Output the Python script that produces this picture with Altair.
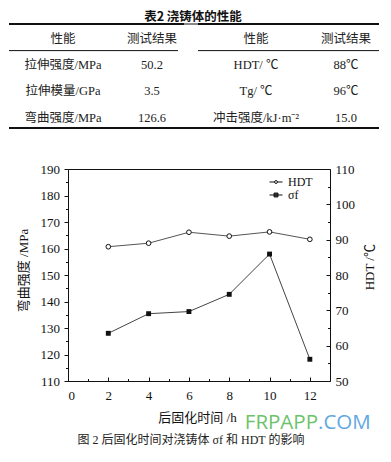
import altair as alt
import pandas as pd

# ---------------- data ----------------
hours = [2, 4, 6, 8, 10, 12]
hdt_c = [88.0, 89.0, 92.1, 91.0, 92.2, 90.1]
sigma_mpa = [128.0, 135.4, 136.2, 142.7, 157.9, 118.2]
series_names = ["HDT", "σf"]

table_title = "表2   浇铸体的性能"
table_headers = ["性能", "测试结果", "性能", "测试结果"]
left_props = ["拉伸强度/MPa", "拉伸模量/GPa", "弯曲强度/MPa"]
left_results = ["50.2", "3.5", "126.6"]
right_props = ["HDT/ ℃", "Tg/ ℃", "冲击强度/kJ·m⁻²"]
right_results = ["88℃", "96℃", "15.0"]

x_major = [0, 2, 4, 6, 8, 10, 12]
x_minor = [1, 3, 5, 7, 9, 11]
yl_major = [110, 120, 130, 140, 150, 160, 170, 180, 190]
yl_minor = [115, 125, 135, 145, 155, 165, 175, 185]
yr_major = [50, 60, 70, 80, 90, 100, 110]
yr_minor = [55, 65, 75, 85, 95, 105]

x_title = "后固化时间 /h"
yl_title = "弯曲强度 /MPa"
yr_title = "HDT /℃"
caption = "图 2    后固化时间对浇铸体 σf 和 HDT 的影响"
watermark = ["FRPAPP", ".COM"]

# ---------------- styles ----------------
SERIF = "Liberation Serif, Noto Sans CJK SC"
CJK = "Noto Sans CJK SC"
INK = "#111111"

# ---------------- table ----------------
rows = ["h", "r1", "r2", "r3"]
left_rec, right_rec = [], []
left_rec += [{"row": "h", "col": "a", "text": table_headers[0]},
             {"row": "h", "col": "b", "text": table_headers[1]}]
right_rec += [{"row": "h", "col": "a", "text": table_headers[2]},
              {"row": "h", "col": "b", "text": table_headers[3]}]
for i, r in enumerate(rows[1:]):
    left_rec += [{"row": r, "col": "a", "text": left_props[i]},
                 {"row": r, "col": "b", "text": left_results[i]}]
    right_rec += [{"row": r, "col": "a", "text": right_props[i]},
                  {"row": r, "col": "b", "text": right_results[i]}]
left_df = pd.DataFrame(left_rec)
right_df = pd.DataFrame(right_rec)

yrow = alt.Y("row:N", scale=alt.Scale(type="point", domain=rows, range=[14.7, 93.7], padding=0), axis=None)

t_left = alt.Chart(left_df).mark_text(font=SERIF, fontSize=12.5, color="#222").encode(
    x=alt.X("col:N", scale=alt.Scale(type="point", domain=["a", "b"], range=[-5, 84], padding=0), axis=None),
    y=yrow, text="text:N")
t_right = alt.Chart(right_df).mark_text(font=SERIF, fontSize=12.5, color="#222").encode(
    x=alt.X("col:N", scale=alt.Scale(type="point", domain=["a", "b"], range=[188, 278], padding=0), axis=None),
    y=yrow, text="text:N")

one = pd.DataFrame({"k": [0]})
top_rule = alt.Chart(one).mark_rule(color=INK, strokeWidth=2).encode(
    x=alt.value(-59), x2=alt.value(311), y=alt.value(0))
top_gap = alt.Chart(one).mark_rule(color="#888", strokeWidth=2).encode(
    x=alt.value(116), x2=alt.value(130), y=alt.value(0))
bot_rule = alt.Chart(one).mark_rule(color=INK, strokeWidth=2).encode(
    x=alt.value(-59), x2=alt.value(311), y=alt.value(104))
hl_left = alt.Chart(one).mark_rule(color=INK, strokeWidth=1).encode(
    x=alt.value(-59), x2=alt.value(110), y=alt.value(26.6))
hl_right = alt.Chart(one).mark_rule(color=INK, strokeWidth=1).encode(
    x=alt.value(130), x2=alt.value(311), y=alt.value(26.6))

table = alt.layer(top_rule, top_gap, bot_rule, hl_left, hl_right, t_left, t_right).resolve_scale(
    x="independent"
).properties(
    width=262, height=104,
    title=alt.TitleParams(table_title, font=CJK, fontSize=12.5, fontWeight="bold",
                          color=INK, anchor="middle", offset=-0.5, dx=-6),
    view=alt.ViewBackground(strokeWidth=0, stroke=None),
)

# ---------------- plot ----------------
W, H = 262, 212
df = pd.DataFrame({"t": hours, "hdt": hdt_c, "sf": sigma_mpa})
xs = alt.Scale(domain=[0, 13], nice=False, zero=False)
ysl = alt.Scale(domain=[110, 190], nice=False, zero=False)
ysr = alt.Scale(domain=[50, 110], nice=False, zero=False)

common = dict(domain=False, grid=False, tickColor=INK, tickWidth=1,
              labelFont="Liberation Serif", labelFontSize=13, labelColor=INK)

ax_x_major = alt.Axis(orient="bottom", values=x_major, offset=-4, tickSize=4, labelPadding=8,
                      title=x_title, titleFont=SERIF, titleFontSize=13, titleFontWeight="normal",
                      titleColor=INK, titleX=129, titleY=40, titleBaseline="middle", **common)
ax_x_minor = alt.Axis(orient="bottom", values=x_minor, offset=-2.5, tickSize=2.5, labels=False,
                      title=None, domain=False, grid=False, tickColor=INK, tickWidth=1)
ax_yl_major = alt.Axis(orient="left", values=yl_major, tickSize=4, labelPadding=4.5,
                       title=yl_title, titleFont=SERIF, titleFontSize=13, titleFontWeight="normal",
                       titleColor=INK, titleAngle=270, titleX=-45, titleY=101,
                       titleBaseline="middle", titleAlign="center", **common)
ax_yl_minor = alt.Axis(orient="left", values=yl_minor, tickSize=2.5, labels=False, title=None,
                       domain=False, grid=False, tickColor=INK, tickWidth=1)
ax_yr_major = alt.Axis(orient="right", values=yr_major, offset=-4, tickSize=4, labelPadding=5,
                       title=yr_title, titleFont=SERIF, titleFontSize=13, titleFontWeight="normal",
                       titleColor=INK, titleAngle=270, titleX=43.3, titleY=97.7,
                       titleBaseline="middle", titleAlign="center", **common)
ax_yr_minor = alt.Axis(orient="right", values=yr_minor, offset=-2.5, tickSize=2.5, labels=False,
                       title=None, domain=False, grid=False, tickColor=INK, tickWidth=1)

base = alt.Chart(df)
sf_line = base.mark_line(color="#444", strokeWidth=1).encode(
    x=alt.X("t:Q", scale=xs, axis=ax_x_major),
    y=alt.Y("sf:Q", scale=ysl, axis=ax_yl_major))
sf_pts = base.mark_point(shape="square", size=24, filled=True, color=INK, opacity=1).encode(
    x=alt.X("t:Q", scale=xs, axis=ax_x_minor),
    y=alt.Y("sf:Q", scale=ysl, axis=ax_yl_minor))

wm1 = alt.Chart(pd.DataFrame({"w": [watermark[0]]})).mark_text(
    font="Open Sans", fontSize=20.5, color="#6cc36a", align="right", baseline="alphabetic"
).encode(text="w:N", x=alt.value(250), y=alt.value(260))
wm2 = alt.Chart(pd.DataFrame({"w": [watermark[1]]})).mark_text(
    font="Open Sans", fontSize=20.5, color="#62a8e0", align="left", baseline="alphabetic"
).encode(text="w:N", x=alt.value(250), y=alt.value(260))

left_group = alt.layer(sf_line, sf_pts, wm1, wm2).resolve_axis(x="independent", y="independent")

hdt_line = base.mark_line(color="#555", strokeWidth=1).encode(
    x=alt.X("t:Q", scale=xs, axis=None),
    y=alt.Y("hdt:Q", scale=ysr, axis=ax_yr_major))
hdt_pts = base.mark_point(shape="circle", size=22, filled=True, fill="white", stroke=INK,
                          strokeWidth=1, opacity=1).encode(
    x=alt.X("t:Q", scale=xs, axis=None),
    y=alt.Y("hdt:Q", scale=ysr, axis=ax_yr_minor))
right_group = alt.layer(hdt_line, hdt_pts).resolve_axis(y="independent")

# legend symbols: short line with open circle / filled square (square filled by hatching strokes)
P_HDT = "M-1,0H-0.23M0.23,0H1M0.23,0A0.23,0.23,0,1,1,-0.23,0A0.23,0.23,0,1,1,0.23,0Z"
P_SF = ("M-1,0H1M-0.3,-0.3H0.3V0.3H-0.3ZM-0.3,-0.15H0.3M-0.3,0.15H0.3"
        "M-0.15,-0.3V0.3M0.15,-0.3V0.3")
LEG = alt.Legend(title=None, orient="none", legendX=201, legendY=6, padding=0,
                 symbolSize=169, symbolStrokeWidth=1, symbolStrokeColor=INK,
                 symbolFillColor="white", symbolOpacity=1,
                 labelFont="Liberation Serif", labelFontSize=12, labelColor=INK,
                 labelOffset=5, rowPadding=0)
legend_layer = alt.Chart(alt.Data(values=[])).mark_point(
    filled=False, stroke=INK, strokeWidth=1, opacity=1
).encode(
    shape=alt.Shape("s:N", scale=alt.Scale(domain=series_names, range=[P_HDT, P_SF]), legend=LEG))

plot = alt.layer(left_group, right_group, legend_layer).resolve_scale(y="independent").properties(
    width=W, height=H,
    view=alt.ViewBackground(stroke=INK, strokeWidth=1),
)

chart = alt.vconcat(table, plot, spacing=33).resolve_legend(shape="independent").properties(
    padding={"top": 3, "left": 0, "right": 0, "bottom": 0},
    title=alt.TitleParams(caption, orient="bottom", anchor="middle", font=SERIF, fontSize=12,
                          fontWeight="normal", color="#222", offset=1, dx=-3),
).configure_view(stroke=None)

chart.save("out.html", embed_options={"renderer": "svg", "actions": False})
